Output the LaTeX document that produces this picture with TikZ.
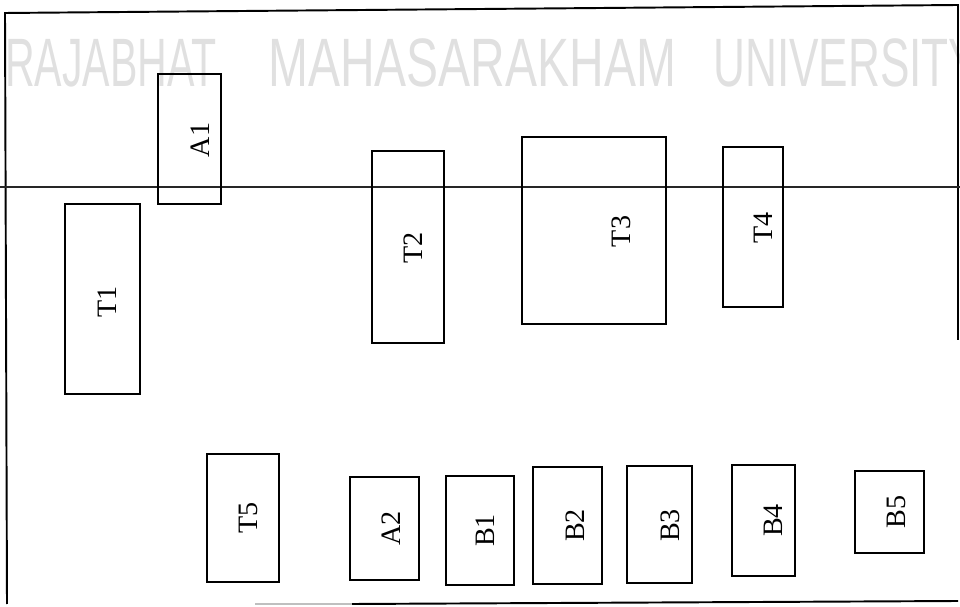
\documentclass[tikz,border=0pt]{standalone}
\usepackage{fontspec}
\setmainfont{Liberation Serif}
\newfontfamily\wmfont{Liberation Sans}
\usetikzlibrary{fit,calc}

\begin{document}
\begin{tikzpicture}[x=0.02cm,y=-0.02cm,
room/.style={draw,line width=1.1pt,inner sep=0pt},
tag/.style={rotate=90,inner sep=0pt,font=\fontsize{16}{19}\selectfont},
wm/.style={anchor=base west,inner sep=0pt,text=black!12,xscale=#1,
  font=\wmfont\fontsize{39}{40}\selectfont},
frame/.style={line width=1.1pt}]
\useasboundingbox(0,0)rectangle(960,607);
\begin{scope}
\clip(0,0)rectangle(960,607);
\node[wm=0.60](W1)at(5,87){RAJABHAT};
\node[wm=0.70](W2)at(268,87){MAHASARAKHAM};
\node[wm=0.645](W3)at(713,87){UNIVERSITY};
\end{scope}
\draw[frame](7,604)--(5,13)--(958,5)--(958,340);
\draw[frame](352,604)--(958,601);\draw[frame,black!25](255,604)--(352,604);
\draw[line width=0.6pt,black!85](0,187)--(960,187);
\node[room,fit={(158,74)(221,204)}](A1){};\node[tag](A1t)at($(A1)+(11,1)$){A1};
\node[room,fit={(65,204)(140,394)}](T1){};\node[tag](T1t)at($(T1)+(5,3)$){T1};
\node[room,fit={(372,151)(444,343)}](T2){};\node[tag](T2t)at($(T2)+(5,1)$){T2};
\node[room,fit={(522,137)(666,324)}](T3){};\node[tag](T3t)at($(T3)+(27,1)$){T3};
\node[room,fit={(723,147)(783,307)}](T4){};\node[tag](T4t)at($(T4)+(10,1)$){T4};
\node[room,fit={(207,454)(279,582)}](T5){};\node[tag](T5t)at($(T5)+(5,0)$){T5};
\node[room,fit={(350,477)(419,580)}](A2){};\node[tag](A2t)at($(A2)+(7,0)$){A2};
\node[room,fit={(446,476)(514,585)}](B1){};\node[tag](B1t)at($(B1)+(5,0)$){B1};
\node[room,fit={(533,467)(602,584)}](B2){};\node[tag](B2t)at($(B2)+(8,0)$){B2};
\node[room,fit={(627,466)(692,583)}](B3){};\node[tag](B3t)at($(B3)+(11,1)$){B3};
\node[room,fit={(732,465)(795,576)}](B4){};\node[tag](B4t)at($(B4)+(10,0)$){B4};
\node[room,fit={(855,471)(924,553)}](B5){};\node[tag](B5t)at($(B5)+(7,0)$){B5};
\end{tikzpicture}
\end{document}
